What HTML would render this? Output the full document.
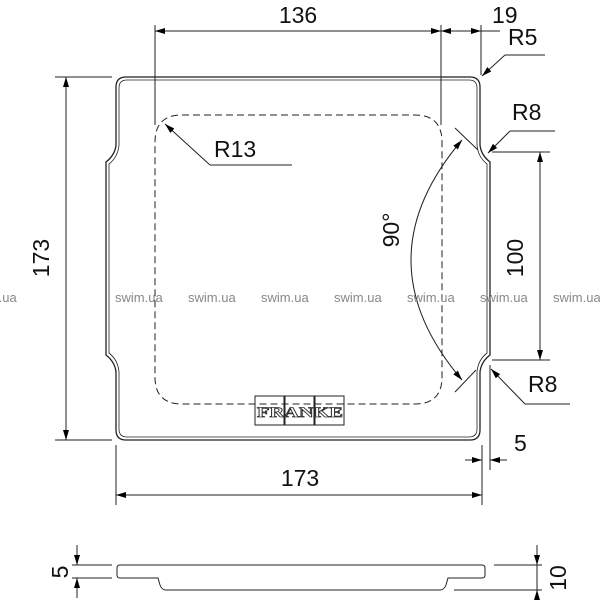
<!DOCTYPE html>
<html><head><meta charset="utf-8"><style>body{margin:0;background:#fff}svg{display:block}</style></head><body>
<svg width="600" height="600" viewBox="0 0 600 600" xmlns="http://www.w3.org/2000/svg" font-family="Liberation Sans, Arial, sans-serif">
<defs><marker id="a" viewBox="0 0 10 6" refX="10" refY="3" markerWidth="10" markerHeight="6" orient="auto-start-reverse" markerUnits="userSpaceOnUse"><path d="M0,0L10,3L0,6z" fill="#000"/></marker></defs>
<g fill="none" stroke="#222" stroke-width="1.3">
<path d="M126,77 H470 Q480,77 480,87 V145 Q481,155 490,162 V355 Q481,362 480,372 V430 Q480,440 470,440 H126 Q116,440 116,430 V372 Q115,362 106,355 V162 Q115,155 116,145 V87 Q116,77 126,77Z"/>
<path d="M127,80 H469 Q477,80 477,88 V145 Q478,157 487,164 V353 Q478,360 477,372 V429 Q477,437 469,437 H127 Q119,437 119,429 V372 Q118,360 109,353 V164 Q118,157 119,145 V88 Q119,80 127,80Z" stroke-width="0.8"/>
<path d="M182,115 H415 Q442,115 442,142 V377 Q442,404 415,404 H182 Q155,404 155,377 V142 Q155,115 182,115Z" stroke-dasharray="7,4" stroke-width="1"/>
<rect x="255" y="396" width="29" height="29" stroke-width="1"/><rect x="285" y="396" width="29" height="29" stroke-width="1"/><rect x="315" y="396" width="29" height="29" stroke-width="1"/>
</g>
<text x="300" y="417" font-family="Liberation Serif, serif" font-size="15" font-weight="bold" text-anchor="middle" fill="#fff" stroke="#333" stroke-width="0.8" textLength="86" lengthAdjust="spacingAndGlyphs">FRANKE</text>
<g stroke="#222" stroke-width="1" fill="none">
<line x1="155" y1="25" x2="155" y2="125"/><line x1="441" y1="25" x2="441" y2="125"/><line x1="481" y1="25" x2="481" y2="75"/>
<line x1="155" y1="31" x2="441" y2="31" marker-start="url(#a)" marker-end="url(#a)"/>
<line x1="441" y1="31" x2="481" y2="31" marker-start="url(#a)" marker-end="url(#a)"/>
<line x1="481" y1="31" x2="500" y2="31"/>
<line x1="505" y1="55" x2="482" y2="76" marker-end="url(#a)"/><line x1="505" y1="55" x2="545" y2="55"/>
<line x1="510" y1="131" x2="488" y2="153" marker-end="url(#a)"/><line x1="510" y1="131" x2="555" y2="131"/>
<line x1="525" y1="404" x2="491" y2="369" marker-end="url(#a)"/><line x1="525" y1="404" x2="570" y2="404"/>
<line x1="210" y1="165" x2="165" y2="124" marker-end="url(#a)"/><line x1="210" y1="165" x2="292" y2="165"/>
<line x1="492" y1="152" x2="550" y2="152"/><line x1="492" y1="360" x2="550" y2="360"/>
<line x1="540" y1="152" x2="540" y2="360" marker-start="url(#a)" marker-end="url(#a)"/>
<path d="M462,140 Q360,260 462,380" marker-start="url(#a)" marker-end="url(#a)"/>
<line x1="455" y1="128" x2="478" y2="150"/><line x1="455" y1="392" x2="476" y2="370"/>
<line x1="55" y1="77" x2="112" y2="77"/><line x1="55" y1="440" x2="112" y2="440"/>
<line x1="66" y1="77" x2="66" y2="440" marker-start="url(#a)" marker-end="url(#a)"/>
<line x1="116" y1="445" x2="116" y2="505"/><line x1="482" y1="445" x2="482" y2="505"/><line x1="490" y1="365" x2="490" y2="470"/>
<line x1="116" y1="495" x2="482" y2="495" marker-start="url(#a)" marker-end="url(#a)"/>
<line x1="465" y1="460" x2="482" y2="460" marker-end="url(#a)"/><line x1="507" y1="460" x2="490" y2="460" marker-end="url(#a)"/>
<path d="M120,565 H482 Q485,565 485,568 V575 Q485,578 482,578 H448 L446,585 Q444,590 440,590 H166 Q162,590 160,585 L158,578 H120 Q117,578 117,575 V568 Q117,565 120,565Z" stroke-width="1"/>
<line x1="72" y1="565" x2="112" y2="565"/><line x1="72" y1="578" x2="112" y2="578"/>
<line x1="77" y1="545" x2="77" y2="565" marker-end="url(#a)"/><line x1="77" y1="598" x2="77" y2="578" marker-end="url(#a)"/>
<line x1="494" y1="565" x2="542" y2="565"/><line x1="454" y1="590" x2="542" y2="590"/>
<line x1="537" y1="545" x2="537" y2="565" marker-end="url(#a)"/><line x1="537" y1="600" x2="537" y2="590" marker-end="url(#a)"/><line x1="537" y1="565" x2="537" y2="590"/>
</g>
<g font-size="23" fill="#111">
<text x="298" y="23" text-anchor="middle">136</text>
<text x="492" y="23">19</text>
<text x="508" y="45">R5</text>
<text x="512" y="120">R8</text>
<text x="528" y="392">R8</text>
<text x="214" y="157">R13</text>
<text x="300" y="486" text-anchor="middle">173</text>
<text x="514" y="451">5</text>
<text transform="translate(49,258) rotate(-90)" text-anchor="middle">173</text>
<text transform="translate(523,258) rotate(-90)" text-anchor="middle">100</text>
<text transform="translate(399,230) rotate(-90)" text-anchor="middle">90°</text>
<text transform="translate(68,572) rotate(-90)" text-anchor="middle">5</text>
<text transform="translate(566,578) rotate(-90)" text-anchor="middle">10</text>
</g>
<g font-size="13" fill="#888">
<text x="-31" y="302">swim.ua</text><text x="115" y="302">swim.ua</text><text x="188" y="302">swim.ua</text><text x="261" y="302">swim.ua</text><text x="334" y="302">swim.ua</text><text x="407" y="302">swim.ua</text><text x="480" y="302">swim.ua</text><text x="553" y="302">swim.ua</text>
</g>
</svg>
</body></html>
